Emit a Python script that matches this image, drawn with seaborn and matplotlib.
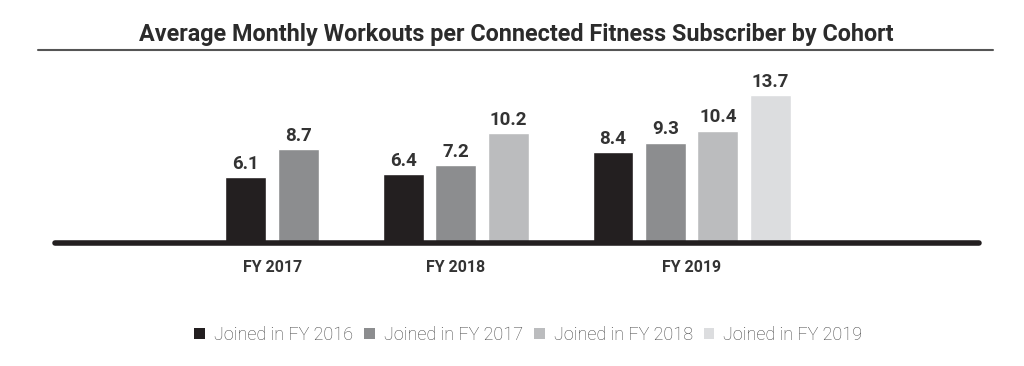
import numpy as np
import pandas as pd
import seaborn as sns
import matplotlib.pyplot as plt
from matplotlib.patches import Patch

# Data
fiscal_years = ["FY 2017", "FY 2018", "FY 2019"]
cohorts = ["Joined in FY 2016", "Joined in FY 2017", "Joined in FY 2018", "Joined in FY 2019"]
workouts = {
    "FY 2017": [6.1, 8.7],
    "FY 2018": [6.4, 7.2, 10.2],
    "FY 2019": [8.4, 9.3, 10.4, 13.7],
}
colors = ["#231f20", "#8c8d8f", "#bbbcbe", "#dcdddf"]

# Build a long table; each group takes its bars plus one empty slot
rows = []
slot = 0
group_centers = []
for fy in fiscal_years:
    vals = workouts[fy]
    start = slot
    for i, v in enumerate(vals):
        rows.append({"year": fy, "cohort": cohorts[i], "value": v, "slot": slot})
        slot += 1
    group_centers.append((start + slot - 1) / 2)
    slot += 1
df = pd.DataFrame(rows)

sns.set_style("white")
plt.rcParams["font.family"] = ["Roboto", "DejaVu Sans"]

fig = plt.figure(figsize=(10.24, 3.66), dpi=100)
ax = fig.add_axes([55 / 1024, 123 / 366, (979 - 55) / 1024, 183 / 366])

sns.barplot(data=df, x="slot", y="value", hue="cohort", hue_order=cohorts,
            palette=colors, native_scale=True, dodge=False, width=0.78,
            saturation=1, legend=False, ax=ax)

# Value labels
for c in ax.containers:
    ax.bar_label(c, fmt="%.1f", padding=3, fontsize=13.5, fontweight="bold",
                 color="#333333")

ax.set_xlim(-3.64, 13.98)
ax.set_ylim(0, 16.94)
sns.despine(ax=ax, left=True, bottom=True)
ax.set_yticks([])
ax.set_ylabel("")
ax.set_xlabel("")
ax.set_xticks(group_centers)
ax.set_xticklabels(fiscal_years, fontsize=11.5, fontweight="bold", color="#333333")
ax.tick_params(axis="x", length=0, pad=12)

# Thick baseline
ax.axhline(0, color="#231f20", lw=4, solid_capstyle="round", clip_on=False, zorder=5)

# Title and rule under it
fig.text(0.504, 332 / 366, "Average Monthly Workouts per Connected Fitness Subscriber by Cohort",
         ha="center", va="center", fontsize=16.8, fontweight="bold", color="#2b2b2b")
fig.add_artist(plt.Line2D([38 / 1024, 993 / 1024], [316 / 366, 316 / 366],
                          color="#555555", lw=1.5))

# Legend
handles = [Patch(facecolor=col, edgecolor="none") for col in colors]
fig.legend(handles, cohorts, loc="center", bbox_to_anchor=(0.516, 31 / 366), ncol=4,
           frameon=False, handlelength=0.6, handleheight=0.6,
           handletextpad=0.5, columnspacing=0.6, labelcolor="#444444",
           prop={"weight": "light", "size": 13})

plt.savefig("out.png", dpi=100)
